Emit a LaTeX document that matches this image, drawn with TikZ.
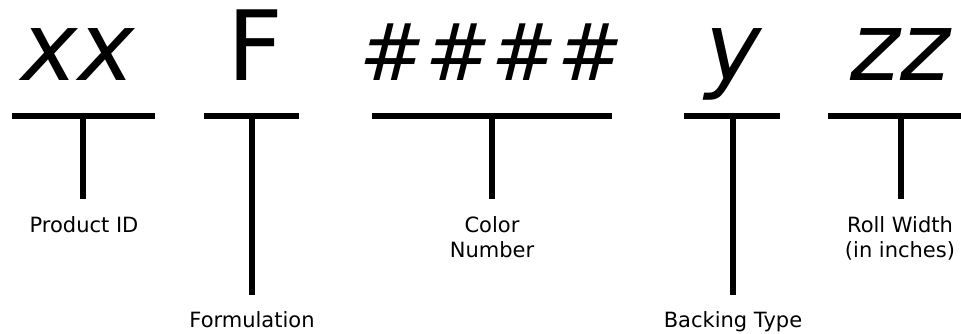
\documentclass[tikz,border=0pt]{standalone}
\usepackage{fontspec}
\setmainfont{DejaVu Sans}
\begin{document}
\begin{tikzpicture}[x=1pt,y=-1pt,
  big/.style={inner sep=0pt,anchor=base,font=\fontsize{97}{100}\selectfont},
  bigit/.style={inner sep=0pt,anchor=base,font=\fontsize{95}{100}\selectfont\itshape},
  hash/.style={inner sep=0pt,anchor=base,font=\fontsize{79}{84}\selectfont\itshape},
  lbl/.style={inner sep=0pt,anchor=base,font=\fontsize{21}{25}\selectfont},
  rule/.style={line width=5.5pt}]
\useasboundingbox (0,0) rectangle (961,333);
% big codes
\node[bigit] (xx) at (78,80) {xx};
\node[big] (F) at (255,80) {F};
\node[hash] (h1) at (393,80) {\#};
\node[hash] (h2) at (459,80) {\#};
\node[hash] (h3) at (525,80) {\#};
\node[hash] (h4) at (591,80) {\#};
\node[bigit] (y) at (734,80) {y};
\node[bigit] (zz) at (900,80) {zz};
% bars
\coordinate (a1) at (12,116);  \coordinate (a2) at (155,116);
\coordinate (b1) at (204,116); \coordinate (b2) at (299,116);
\coordinate (c1) at (372,116); \coordinate (c2) at (612,116);
\coordinate (d1) at (684,116); \coordinate (d2) at (780,116);
\coordinate (e1) at (828,116); \coordinate (e2) at (961,116);
\draw[rule] (a1) -- (a2);
\draw[rule] (b1) -- (b2);
\draw[rule] (c1) -- (c2);
\draw[rule] (d1) -- (d2);
\draw[rule] (e1) -- (e2);
% stems
\coordinate (sa) at (83,116);  \coordinate (ta) at (83,199);
\coordinate (sb) at (252,116); \coordinate (tb) at (252,295);
\coordinate (sc) at (492,116); \coordinate (tc) at (492,199);
\coordinate (sd) at (733,116); \coordinate (td) at (733,295);
\coordinate (se) at (901,116); \coordinate (te) at (901,199);
\draw[rule] (sa) -- (ta);
\draw[rule] (sb) -- (tb);
\draw[rule] (sc) -- (tc);
\draw[rule] (sd) -- (td);
\draw[rule] (se) -- (te);
% labels
\node[lbl] (pid) at (84,232) {Product ID};
\node[lbl] (form) at (252,327) {Formulation};
\node[lbl] (col1) at (492,232) {Color};
\node[lbl] (col2) at (492,257) {Number};
\node[lbl] (back) at (733,327) {Backing Type};
\node[lbl] (roll1) at (900,232) {Roll Width};
\node[lbl] (roll2) at (900,257) {(in inches)};
\end{tikzpicture}
\end{document}
